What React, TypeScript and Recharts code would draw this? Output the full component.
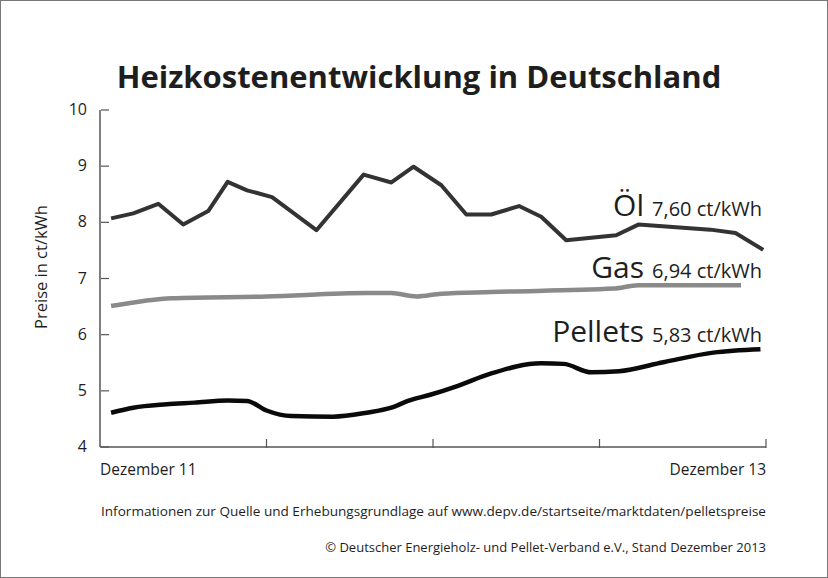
import React from "react";
import { LineChart, Line, XAxis, YAxis } from "recharts";

// months after Dezember 2011
const oelMonths = [0.4, 1.2, 2.1, 3.0, 3.9, 4.6, 5.3, 6.2, 7.8, 9.5, 10.5, 11.3, 12.3, 13.2, 14.1, 15.1, 15.9, 16.8, 18.6, 19.4, 22.0, 22.9, 23.9];
const oelPrices = [8.07, 8.16, 8.33, 7.96, 8.2, 8.72, 8.57, 8.45, 7.86, 8.85, 8.71, 8.99, 8.66, 8.14, 8.14, 8.29, 8.1, 7.68, 7.77, 7.96, 7.87, 7.81, 7.51];

const gasMonths = [0.4, 2.6, 6.0, 9.6, 10.5, 11.4, 12.3, 14.1, 18.5, 19.4, 23.1];
const gasPrices = [6.51, 6.65, 6.68, 6.74, 6.74, 6.68, 6.73, 6.76, 6.82, 6.88, 6.88];

const pelletMonths = [0.4, 1.2, 2.4, 3.4, 4.6, 5.3, 6.0, 6.9, 8.4, 9.6, 10.5, 11.1, 11.9, 12.9, 14.1, 15.9, 16.7, 17.7, 18.7, 20.3, 22.1, 23.8];
const pelletPrices = [4.61, 4.7, 4.76, 4.79, 4.83, 4.82, 4.65, 4.55, 4.54, 4.61, 4.7, 4.82, 4.93, 5.09, 5.31, 5.49, 5.48, 5.33, 5.35, 5.51, 5.68, 5.74];

const yTicks = [4, 5, 6, 7, 8, 9, 10];
const xTicks = [0, 6, 12, 18, 24];
const xTickLabels: Record<number, string> = { 0: "Dezember 11", 24: "Dezember 13" };

const seriesLabels = [
  { name: "Öl", value: "7,60 ct/kWh" },
  { name: "Gas", value: "6,94 ct/kWh" },
  { name: "Pellets", value: "5,83 ct/kWh" },
];

const toRows = (ms: number[], vs: number[]) => ms.map((m, i) => ({ m, v: vs[i] }));

const FONT = "'Open Sans', sans-serif";
const INK = "#1e1e1e";
const AXIS = "#555";
const LEFT = 100;
const BOTTOM = 447;

const YTick = (props: any) => {
  const { y, payload } = props;
  return (
    <g>
      <line x1={LEFT} x2={LEFT + 8} y1={y} y2={y} stroke={AXIS} strokeWidth={1.2} />
      <text x={LEFT - 14} y={y} dy={5} textAnchor="end" fontSize={16} fontFamily={FONT} fill={INK}>
        {payload.value}
      </text>
    </g>
  );
};

const XTick = (props: any) => {
  const { x, payload } = props;
  const label = xTickLabels[payload.value];
  return (
    <g>
      {payload.value > 0 && (
        <line x1={x} x2={x} y1={BOTTOM} y2={BOTTOM - 9} stroke={AXIS} strokeWidth={1.2} />
      )}
      {label && (
        <text
          x={x}
          y={BOTTOM + 27}
          textAnchor={payload.value === 0 ? "start" : "end"}
          fontSize={15.5}
          fontFamily={FONT}
          fill={INK}
        >
          {label}
        </text>
      )}
    </g>
  );
};

export default function App() {
  const labelY = [215, 277, 341];
  return (
    <div
      style={{
        position: "absolute",
        left: 0,
        top: 0,
        width: 828,
        height: 578,
        boxSizing: "border-box",
        border: "1px solid #777",
        background: "#fff",
      }}
    >
      <LineChart
        width={826}
        height={576}
        margin={{ top: 109, right: 61, bottom: 90, left: 39 }}
        style={{ position: "absolute", left: 0, top: 0 }}
      >
        <XAxis
          type="number"
          dataKey="m"
          domain={[0, 24]}
          ticks={xTicks}
          tick={<XTick />}
          tickLine={false}
          axisLine={{ stroke: AXIS, strokeWidth: 1.5 }}
          height={40}
          allowDataOverflow
        />
        <YAxis
          type="number"
          domain={[4, 10]}
          ticks={yTicks}
          tick={<YTick />}
          tickLine={false}
          axisLine={{ stroke: AXIS, strokeWidth: 1.5 }}
          width={60}
        />
        <Line data={toRows(gasMonths, gasPrices)} dataKey="v" type="monotone" stroke="#8a8a8a" strokeWidth={4.5} dot={false} isAnimationActive={false} />
        <Line data={toRows(pelletMonths, pelletPrices)} dataKey="v" type="monotone" stroke="#0a0a0a" strokeWidth={4.5} dot={false} isAnimationActive={false} />
        <Line data={toRows(oelMonths, oelPrices)} dataKey="v" type="linear" stroke="#333" strokeWidth={4} strokeLinejoin="round" dot={false} isAnimationActive={false} />
      </LineChart>
      <svg width={826} height={576} style={{ position: "absolute", left: 0, top: 0, pointerEvents: "none" }}>
        <text x={418} y={87} textAnchor="middle" fontSize={31} fontWeight={700} fontFamily={FONT} fill={INK}>
          Heizkostenentwicklung in Deutschland
        </text>
        <text
          transform="translate(46,266) rotate(-90)"
          textAnchor="middle"
          fontSize={16.5}
          fontFamily={FONT}
          fill={INK}
        >
          Preise in ct/kWh
        </text>
        {seriesLabels.map((s, i) => (
          <text key={s.name} x={761} y={labelY[i]} textAnchor="end" fontFamily={FONT} fill={INK}>
            <tspan fontSize={30}>{s.name}</tspan>
            <tspan fontSize={20} dx={8}>{s.value}</tspan>
          </text>
        ))}
        <text
          x={100}
          y={515}
          textLength={665}
          lengthAdjust="spacingAndGlyphs"
          fontSize={13.5}
          fontFamily={FONT}
          fill={INK}
        >
          Informationen zur Quelle und Erhebungsgrundlage auf www.depv.de/startseite/marktdaten/pelletspreise
        </text>
        <text x={765} y={551} textAnchor="end" fontSize={13} fontFamily={FONT} fill={INK}>
          © Deutscher Energieholz- und Pellet-Verband e.V., Stand Dezember 2013
        </text>
      </svg>
    </div>
  );
}
